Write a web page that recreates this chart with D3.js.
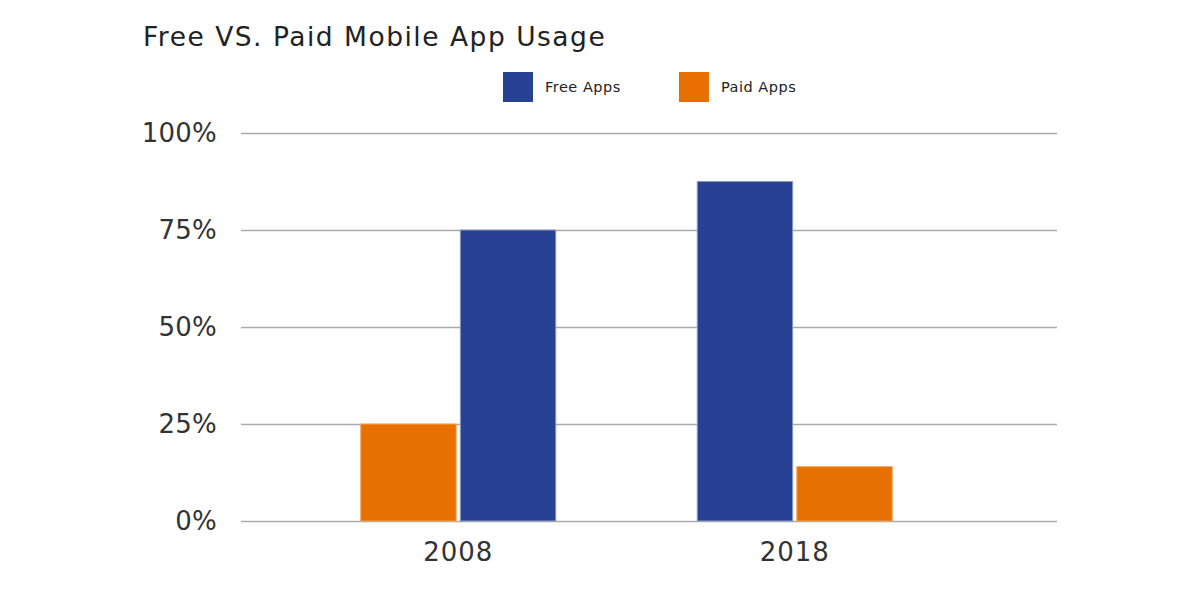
<!DOCTYPE html>
<html><head><meta charset="utf-8">
<script src="https://cdn.jsdelivr.net/npm/d3@7"></script>
<style>body{margin:0;background:#fff}svg{display:block}</style>
</head><body>
<svg id="c" width="1200" height="600"></svg>
<script>
const categories = ['2008', '2018'];
const freeValues = [75, 87.5];
const paidValues = [25, 14];
const seriesNames = ['Free Apps', 'Paid Apps'];
const seriesOrder = [['Paid Apps', 'Free Apps'], ['Free Apps', 'Paid Apps']];
const yTicks = [0, 25, 50, 75, 100];

const colors = {'Free Apps': '#274292', 'Paid Apps': '#E87000'};
const strokes = {'Free Apps': '#8c9ac6', 'Paid Apps': '#f2a35c'};
const font = "'DejaVu Sans', sans-serif";

const svg = d3.select('#c');
const y = d3.scaleLinear().domain([0, 100]).range([521, 133]);
const x = d3.scaleBand().domain(categories).range([290, 963]);
const inner = d3.scaleBand().domain([0, 1]).range([0, 196]).paddingInner(0.032);

svg.append('text').attr('x', 143).attr('y', 46).text('Free VS. Paid Mobile App Usage')
  .attr('font-family', font).attr('font-size', 26.5).attr('letter-spacing', 1.5).attr('fill', '#222');

// grid
const yAxis = d3.axisLeft(y).tickValues(yTicks).tickSize(-816).tickFormat(d => d + '%').tickPadding(24);
const g = svg.append('g').attr('transform', 'translate(241,0)').call(yAxis);
g.select('.domain').remove();
g.selectAll('.tick line').attr('stroke', '#aaa').attr('stroke-width', 1.5);
g.selectAll('.tick text').attr('font-family', font).attr('font-size', 26).attr('letter-spacing', 0.2).attr('fill', '#333');

const data = [];
categories.forEach((c, i) => {
  seriesOrder[i].forEach((s, j) => {
    data.push({cat: c, series: s, pos: j, value: s === 'Free Apps' ? freeValues[i] : paidValues[i]});
  });
});

svg.append('g').selectAll('rect').data(data).join('rect')
  .attr('x', d => x(d.cat) + (x.bandwidth() - 196) / 2 + inner(d.pos) + 0.5)
  .attr('width', inner.bandwidth() - 1)
  .attr('y', d => y(d.value))
  .attr('height', d => y(0) - y(d.value))
  .attr('fill', d => colors[d.series])
  .attr('stroke', d => strokes[d.series]).attr('stroke-width', 1);

const xAxis = d3.axisBottom(x).tickSize(0).tickPadding(22);
const gx = svg.append('g').attr('transform', 'translate(0,521)').call(xAxis);
gx.select('.domain').remove();
gx.selectAll('.tick text').attr('font-family', font).attr('font-size', 26).attr('letter-spacing', 1).attr('fill', '#333');

// legend
const legX = [503, 679];
const leg = svg.append('g').selectAll('g').data(seriesNames).join('g')
  .attr('transform', (d, i) => `translate(${legX[i]},72)`);
leg.append('rect').attr('width', 30).attr('height', 30).attr('fill', d => colors[d]);
leg.append('text').attr('x', 42).attr('y', 20).text(d => d)
  .attr('font-family', font).attr('font-size', 14.5).attr('letter-spacing', 0.5).attr('fill', '#222');
</script>
</body></html>
